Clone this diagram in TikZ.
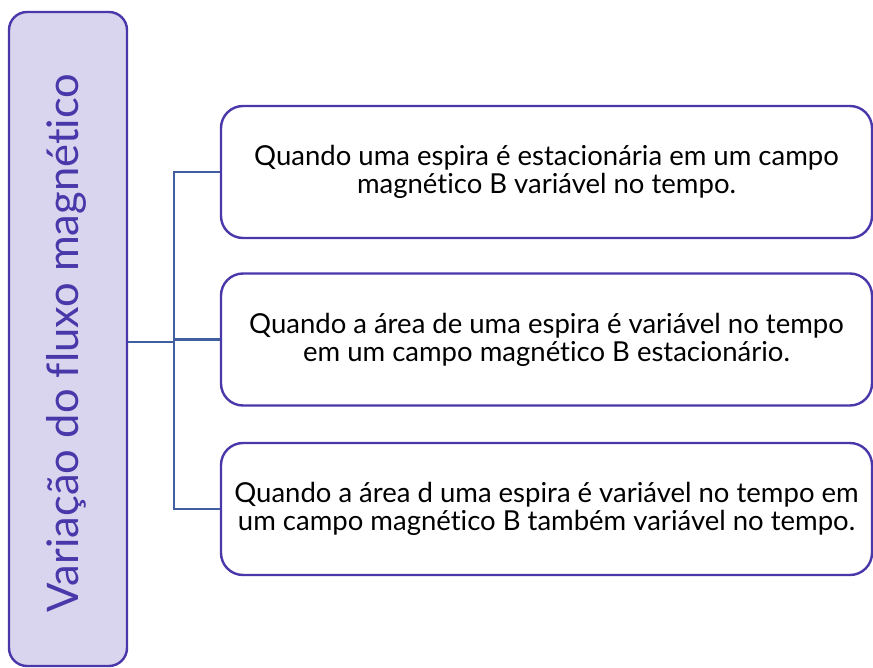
\documentclass[tikz,border=0pt]{standalone}
\usepackage{fontspec}
\setmainfont{Lato}[Ligatures=NoCommon]
\definecolor{rim}{RGB}{72,56,170}
\definecolor{lilac}{RGB}{217,213,238}
\definecolor{wire}{RGB}{65,95,160}
\tikzset{
  sidebox/.style={draw=rim,line width=2.4pt,fill=lilac,rounded corners=18pt,
    rotate=90,minimum width=654pt,minimum height=118pt,text=rim,
    font=\fontsize{43.5}{50}\selectfont},
  casebox/.style={draw=rim,line width=2.4pt,fill=white,rounded corners=22pt,
    minimum width=651pt,minimum height=132pt,align=center,
    font=\fontsize{27.5}{28}\selectfont},
  link/.style={draw=wire,line width=2.4pt}
}
\begin{document}
\begin{tikzpicture}[x=1pt,y=-1pt]
  \useasboundingbox (0,0) rectangle (873,668);

  \node[sidebox] (side) at (68,339) {};
  \node[rotate=90,text=rim,font=\fontsize{43.5}{50}\selectfont] (sidetext) at (66,343) {Variação do fluxo magnético};
  \node[casebox] (c1) at (546.5,172) {Quando uma espira é estacionária em um campo\\magnético B variável no tempo.};
  \node[casebox] (c2) at (546.5,339.5) {Quando a área de uma espira é variável no tempo\\em um campo magnético B estacionário.};
  \node[casebox] (c3) at (546.5,509) {Quando a área d uma espira é variável no tempo em\\um campo magnético B também variável no tempo.};
  \coordinate (hub) at (174,342);

  \draw[link] (hub -| side.south) -- (hub);
  \draw[link] (c1.west) -| (hub) |- (c3.west);
  \draw[link] (hub |- c2.west) -- (c2.west);
\end{tikzpicture}
\end{document}
